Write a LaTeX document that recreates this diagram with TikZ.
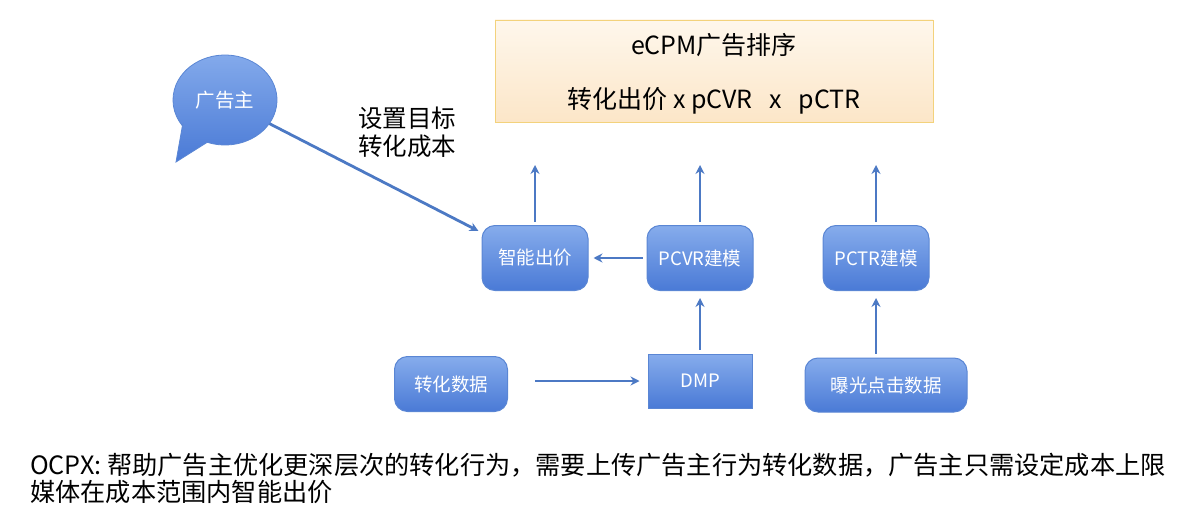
\documentclass[tikz,border=0pt]{standalone}
\usepackage{fontspec}
\setmainfont{Noto Sans CJK SC}
\usetikzlibrary{arrows.meta,shapes.geometric}
\definecolor{boxtop}{HTML}{86ACEC}
\definecolor{boxbot}{HTML}{4A7AD6}
\definecolor{boxedge}{HTML}{5A86D4}
\definecolor{arrowc}{HTML}{4C79C4}
\definecolor{ecpmtop}{HTML}{FEF7EC}
\definecolor{ecpmbot}{HTML}{FCE6C8}
\definecolor{ecpmedge}{HTML}{F3D27C}
\tikzset{
  blockbox/.style={draw=boxedge, line width=1pt, top color=boxtop, bottom color=boxbot,
    text=white, font=\fontsize{18.5}{22}\selectfont, inner sep=0pt},
  roundbox/.style={blockbox, rounded corners=13pt},
  flow/.style={draw=arrowc, line width=2.8pt, -{Stealth[length=9pt,width=9pt]}},
}
\begin{document}
\begin{tikzpicture}[x=1pt,y=1pt]
\useasboundingbox (0,0) rectangle (1184,-524);
% top ranking box
\node[draw=ecpmedge, line width=0.8pt, top color=ecpmtop, bottom color=ecpmbot,
  minimum width=438pt, minimum height=102pt, inner sep=0pt] (ecpm) at (714,-71) {};
\node[font=\fontsize{25}{30}\selectfont] (ecpmt1) at (714,-45) {eCPM广告排序};
\node[font=\fontsize{25}{30}\selectfont] (ecpmt2) at (714,-101) {转化出价 x pCVR\ \ \ x\ \ \ pCTR};
% speech bubble
\path[draw=boxedge, line width=0.8pt, top color=boxtop, bottom color=boxbot]
  (182.4,-125.8) -- (176,-162) -- (207.2,-142.3)
  arc[start angle=250, end angle=575, x radius=52, y radius=45] -- cycle;
\node[ellipse, minimum width=104pt, minimum height=90pt, inner sep=0pt,
  text=white, font=\fontsize{19.5}{22}\selectfont] (adv) at (225,-100) {广告主};
\node[font=\fontsize{24.5}{30}\selectfont, align=center] (goal) at (407,-132) {设置目标\\[-2pt]转化成本};
% boxes
\node[roundbox, minimum width=106pt, minimum height=65pt] (bid) at (535,-258) {智能出价};
\node[roundbox, minimum width=106pt, minimum height=65pt] (pcvr) at (700,-258) {PCVR建模};
\node[roundbox, minimum width=106pt, minimum height=65pt] (pctr) at (876,-258) {PCTR建模};
\node[blockbox, minimum width=104pt, minimum height=54pt] (dmp) at (700,-381) {DMP};
\node[roundbox, minimum width=113pt, minimum height=55pt] (conv) at (451,-384) {转化数据};
\node[roundbox, minimum width=162pt, minimum height=54pt] (expo) at (886,-385) {曝光点击数据};
% free ends
\coordinate (u1) at (535,-165);
\coordinate (u2) at (700,-165);
\coordinate (u3) at (876,-165);
% connectors
\draw[flow] (adv.-28) -- ([xshift=-3pt,yshift=-6pt]bid.north west);
\draw[flow, shorten <=3pt] (bid.north) -- (u1);
\draw[flow, shorten <=3pt] (pcvr.north) -- (u2);
\draw[flow, shorten <=3pt] (pctr.north) -- (u3);
\draw[flow, shorten <=4pt, shorten >=5pt] (pcvr.west) -- (bid.east);
\draw[flow, shorten <=4pt, shorten >=7pt] (dmp.north) -- (pcvr.south);
\draw[flow, shorten <=4pt, shorten >=7pt] (pctr |- expo.north) -- (pctr.south);
\draw[flow, shorten <=27pt, shorten >=8pt] (conv.east |- dmp.center) -- (dmp.west);
% bottom text
\node[anchor=north west, align=left, inner sep=0pt, font=\fontsize{25.2}{27}\selectfont] (note) at (30,-453)
  {OCPX: 帮助广告主优化更深层次的转化行为，需要上传广告主行为转化数据，广告主只需设定成本上限\\媒体在成本范围内智能出价};
\end{tikzpicture}
\end{document}
